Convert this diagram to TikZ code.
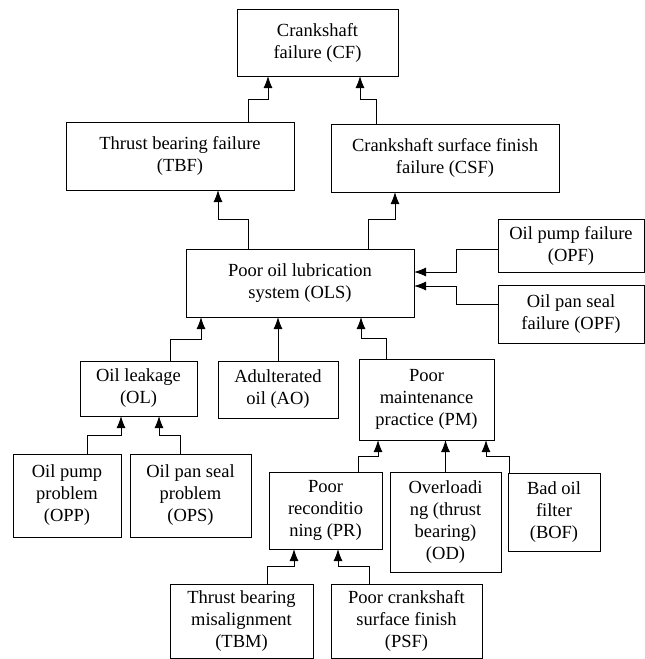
\documentclass[tikz,border=0pt]{standalone}
\usepackage{fontspec}
\setmainfont{Liberation Serif}
\usetikzlibrary{positioning,arrows.meta}

\begin{document}
\begin{tikzpicture}
[x=1pt,y=-1pt,
 box/.style={draw=black,line width=1pt,rectangle,align=center,inner sep=0pt,outer sep=0pt,font=\fontsize{18.5}{22}\selectfont},
 link/.style={draw=black,line width=1pt,-{Latex[length=12pt,width=9pt]}}]
\useasboundingbox (0,0) rectangle (645,659);

\node[box,minimum width=161pt,minimum height=67pt] (CF) at (317.5,42.5) {Crankshaft\\failure (CF)};
\node[box,minimum width=228pt,minimum height=68pt] (TBF)  [on grid,below  left=113.5pt and 137.5pt of CF]  {Thrust bearing failure\\(TBF)};
\node[box,minimum width=228pt,minimum height=68pt] (CSF)  [on grid,below right=115.5pt and 127.5pt of CF]  {Crankshaft surface finish\\failure (CSF)};
\node[box,minimum width=228pt,minimum height=68pt] (OLS)  [on grid,below right=127pt and 120pt of TBF]    {Poor oil lubrication\\system (OLS)};
\node[box,minimum width=146pt,minimum height=53pt] (OPF)  [on grid,above right=37.5pt and 271pt of OLS]   {Oil pump failure\\(OPF)};
\node[box,minimum width=146pt,minimum height=58pt] (OPSF) [on grid,below right=31pt and 271pt of OLS]     {Oil pan seal\\failure (OPF)};
\node[box,minimum width=117pt,minimum height=55pt] (OL)   [on grid,below  left=105.5pt and 161.5pt of OLS] {Oil leakage\\(OL)};
\node[box,minimum width=120pt,minimum height=57pt] (AO)   [on grid,below  left=106.5pt and 22pt of OLS]    {Adulterated\\oil (AO)};
\node[box,minimum width=135pt,minimum height=81pt] (PM)   [on grid,below right=116.5pt and 126.5pt of OLS] {Poor\\maintenance\\practice (PM)};
\node[box,minimum width=108pt,minimum height=83pt] (OPP)  [on grid,below  left=107pt and 71.5pt of OL]     {Oil pump\\problem\\(OPP)};
\node[box,minimum width=121pt,minimum height=83pt] (OPS)  [on grid,below right=107pt and 52pt of OL]       {Oil pan seal\\problem\\(OPS)};
\node[box,minimum width=113pt,minimum height=77pt] (PR)   [on grid,below  left=111pt and 101pt of PM]      {Poor\\reconditio\\ning (PR)};
\node[box,minimum width=111pt,minimum height=100pt] (OD)  [on grid,below right=122.5pt and 19pt of PM]     {Overloadi\\ng (thrust\\bearing)\\(OD)};
\node[box,minimum width=92pt,minimum height=78pt]  (BOF)  [on grid,below right=112.5pt and 127.5pt of PM]  {Bad oil\\filter\\(BOF)};
\node[box,minimum width=143pt,minimum height=74pt] (TBM)  [on grid,below  left=110.5pt and 84pt of PR]     {Thrust bearing\\misalignment\\(TBM)};
\node[box,minimum width=151pt,minimum height=74pt] (PSF)  [on grid,below right=110.5pt and 81pt of PR]     {Poor crankshaft\\surface finish\\(PSF)};

% every link leaves the child box, jogs once and enters the parent box
\draw[link] ([xshift=68pt]TBF.north)   -- ++(0,-23) -| ([xshift=-49.5pt]CF.south);
\draw[link] ([xshift=-69pt]CSF.north)  -- ++(0,-25) -| ([xshift=42.5pt]CF.south);
\draw[link] ([xshift=-52pt]OLS.north)  -- ++(0,-30) -| ([xshift=38pt]TBF.south);
\draw[link] ([xshift=68pt]OLS.north)   -- ++(0,-30) -| ([xshift=-50pt]CSF.south);
\draw[link] ([yshift=-3.5pt]OPF.west)  -- ++(-42,0) |- ([yshift=11pt]OLS.east);
\draw[link] ([yshift=10pt]OPSF.west)   -- ++(-42,0) |- ([yshift=-3pt]OLS.east);
\draw[link] ([xshift=31.5pt]OL.north)  -- ++(0,-22) -| ([xshift=-99pt]OLS.south);
\draw[link] (AO.north) -- (AO.north |- OLS.south);
\draw[link] ([xshift=-40.5pt]PM.north) -- ++(0,-21) -| ([xshift=61pt]OLS.south);
\draw[link] ([xshift=20pt]OPP.north)   -- ++(0,-19) -| ([xshift=-17.5pt]OL.south);
\draw[link] ([xshift=-10.5pt]OPS.north) -- ++(0,-19) -| ([xshift=20.5pt]OL.south);
\draw[link] ([xshift=32.5pt]PR.north)  -- ++(0,-16) -| ([xshift=-48.5pt]PM.south);
\draw[link] (OD.north) -- (OD.north |- PM.south);
\draw[link] ([xshift=-45pt]BOF.north)  -- ++(0,-17) -| ([xshift=59.5pt]PM.south);
\draw[link] ([xshift=25.5pt]TBM.north) -- ++(0,-18) -| ([xshift=-31.5pt]PR.south);
\draw[link] ([xshift=-37.5pt]PSF.north) -- ++(0,-18) -| ([xshift=12.5pt]PR.south);
\end{tikzpicture}
\end{document}
